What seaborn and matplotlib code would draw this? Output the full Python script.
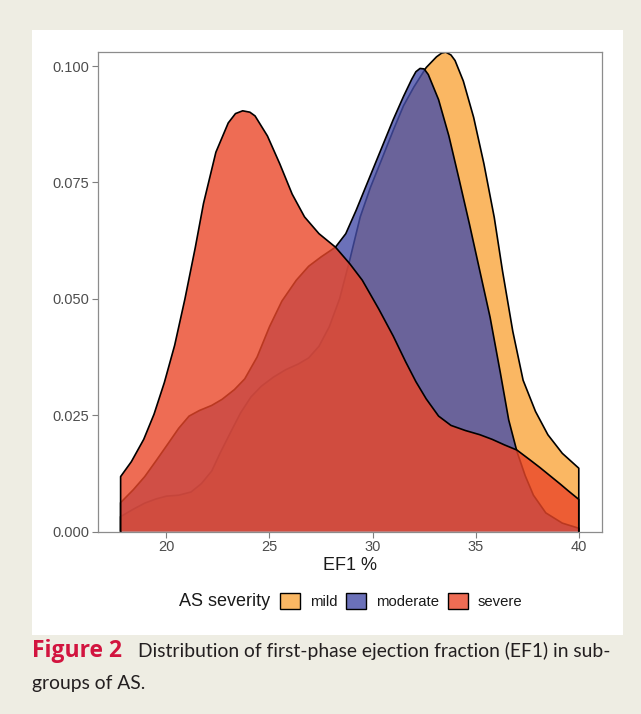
import matplotlib
matplotlib.use("Agg")
import matplotlib.pyplot as plt
import seaborn as sns
from matplotlib.patches import Patch, Rectangle
from matplotlib.colors import to_rgba

# Data (density estimates per AS severity group)
categories = ["mild", "moderate", "severe"]

mild_x = [17.78, 18.4, 18.95, 19.5, 20.0, 20.6, 21.2, 21.7, 22.2, 22.6, 23.1, 23.6,
          24.1, 24.6, 25.2, 25.8, 26.4, 26.9, 27.4, 27.9, 28.4, 28.9, 29.4, 29.9,
          30.4, 31.0, 31.5, 32.0, 32.6, 33.1, 33.35, 33.55, 33.8, 34.0, 34.4, 34.9,
          35.4, 35.9, 36.3, 36.8, 37.3, 37.9, 38.5, 39.2, 40.0]
mild_y = [0.0032, 0.0048, 0.0061, 0.0070, 0.0076, 0.0078, 0.0085, 0.0103, 0.0130,
          0.0168, 0.0212, 0.0255, 0.0289, 0.0312, 0.0332, 0.0348, 0.0360, 0.0373,
          0.0398, 0.0440, 0.0500, 0.0585, 0.0676, 0.0740, 0.0795, 0.0862, 0.0915,
          0.0955, 0.0997, 0.1020, 0.1028, 0.1030, 0.1024, 0.1012, 0.0968, 0.0890,
          0.0790, 0.0675, 0.0560, 0.0430, 0.0325, 0.0258, 0.0208, 0.0168, 0.0136]

moderate_x = [17.78, 18.4, 18.95, 19.5, 20.1, 20.6, 21.1, 21.6, 22.2, 22.7, 23.3, 23.8,
              24.4, 25.0, 25.6, 26.3, 26.9, 27.5, 28.2, 28.7, 29.2, 29.8, 30.4, 31.0,
              31.5, 31.9, 32.1, 32.3, 32.5, 32.7, 33.2, 33.7, 34.2, 34.7, 35.2, 35.7,
              36.2, 36.6, 37.0, 37.4, 37.8, 38.4, 39.2, 40.0]
moderate_y = [0.0062, 0.0090, 0.0118, 0.0152, 0.0190, 0.0222, 0.0248, 0.0260, 0.0271,
              0.0284, 0.0305, 0.0328, 0.0375, 0.0440, 0.0495, 0.0540, 0.0570, 0.0590,
              0.0611, 0.0640, 0.0690, 0.0755, 0.0820, 0.0885, 0.0935, 0.0972, 0.0988,
              0.0995, 0.0994, 0.0982, 0.0928, 0.0850, 0.0756, 0.0660, 0.0560, 0.0460,
              0.0340, 0.0240, 0.0172, 0.0120, 0.0078, 0.0040, 0.0018, 0.0007]

severe_x = [17.78, 18.3, 18.9, 19.4, 19.9, 20.4, 20.9, 21.4, 21.8, 22.4, 23.0, 23.35,
            23.7, 24.05, 24.3, 24.9, 25.5, 26.1, 26.7, 27.4, 28.2, 28.9, 29.5, 30.3,
            31.0, 31.6, 32.1, 32.6, 33.2, 33.8, 34.5, 35.2, 35.8, 36.4, 37.0, 37.6,
            38.1, 38.6, 39.1, 39.5, 40.0]
severe_y = [0.0118, 0.0150, 0.0198, 0.0252, 0.0320, 0.0400, 0.0500, 0.0610, 0.0705,
            0.0815, 0.0878, 0.0898, 0.0904, 0.0901, 0.0893, 0.0850, 0.0790, 0.0725,
            0.0676, 0.0640, 0.0611, 0.0575, 0.0540, 0.0478, 0.0420, 0.0365, 0.0322,
            0.0285, 0.0248, 0.0228, 0.0217, 0.0208, 0.0198, 0.0186, 0.0175, 0.0155,
            0.0138, 0.0120, 0.0102, 0.0087, 0.0069]

x_ticks = [20, 25, 30, 35, 40]
y_ticks = [0.000, 0.025, 0.050, 0.075, 0.100]

colors = {"mild": "#F9A53C", "moderate": "#464EA8", "severe": "#EA4729"}
ALPHA = 0.8

W, H = 641, 714


def main():
    sns.set_theme(style="white")
    plt.rcParams["font.family"] = ["Liberation Sans", "DejaVu Sans"]

    fig = plt.figure(figsize=(W / 100, H / 100), dpi=100)
    fig.patch.set_facecolor("#EEEDE3")

    # white panel behind the chart
    panel = Rectangle((32 / W, 1 - 635 / H), (623 - 32) / W, (635 - 30) / H,
                      transform=fig.transFigure, facecolor="white",
                      edgecolor="none", zorder=-10)
    fig.patches.append(panel)

    ax = fig.add_axes([97.7 / W, 1 - 531.5 / H, (601.7 - 97.7) / W, (531.5 - 51.7) / H])
    ax.set_facecolor("white")
    ax.set_zorder(1)

    series = {
        "mild": (mild_x, mild_y),
        "moderate": (moderate_x, moderate_y),
        "severe": (severe_x, severe_y),
    }
    # each group: fill then its outline, so later fills dim earlier outlines
    for i, name in enumerate(categories):
        xs, ys = series[name]
        ax.fill_between(xs, ys, 0, facecolor=to_rgba(colors[name], ALPHA),
                        edgecolor="none", zorder=1 + 2 * i)
        ax.plot([xs[0]] + list(xs) + [xs[-1]], [0.0] + list(ys) + [0.0],
                color="black", lw=1.2, solid_joinstyle="round", zorder=2 + 2 * i)

    span = 40.0 - 17.78
    ax.set_xlim(17.78 - 0.05 * span, 40.0 + 0.05 * span)
    ax.set_ylim(0, 0.1031)
    ax.set_xticks(x_ticks)
    ax.set_yticks(y_ticks)
    ax.set_yticklabels([f"{v:.3f}" for v in y_ticks])
    ax.tick_params(axis="both", direction="out", length=4, width=0.8, color="#7F7F7F",
                   labelsize=10.5, labelcolor="#4D4D4D", pad=2, bottom=True, left=True)
    for s in ax.spines.values():
        s.set_color("#8C8C8C")
        s.set_linewidth(0.9)
        s.set_zorder(10)
    ax.set_xlabel("EF1 %", fontsize=13, color="#1A1A1A", labelpad=2)
    ax.set_ylabel("")

    # legend
    fig.text(179 / W, 1 - 601 / H, "AS severity", fontsize=13, color="#1A1A1A",
             ha="left", va="center")
    handles = [Patch(facecolor=to_rgba(colors[c], ALPHA), edgecolor="black",
                     linewidth=1.0, label=c) for c in categories]
    leg = fig.legend(handles=handles, ncol=3, loc="center left",
                     bbox_to_anchor=(280 / W, 1 - 601 / H), frameon=False,
                     fontsize=10.7, handlelength=1.35, handleheight=1.35,
                     handletextpad=0.65, columnspacing=0.6, borderpad=0,
                     borderaxespad=0)
    for t in leg.get_texts():
        t.set_color("#1A1A1A")

    # caption
    cap_font = ["Lato", "DejaVu Sans"]
    fig.text(32 / W, 1 - 651 / H, "Figure 2", fontsize=16.5, fontweight="bold",
             color="#D2143F", family=["Open Sans", "DejaVu Sans"], ha="left", va="center")
    fig.text(138 / W, 1 - 651 / H,
             "Distribution of first-phase ejection fraction (EF1) in sub-",
             fontsize=13.9, color="#231F20", family=cap_font, ha="left", va="center")
    fig.text(32 / W, 1 - 683 / H, "groups of AS.", fontsize=13.9, color="#231F20",
             family=cap_font, ha="left", va="center")

    fig.savefig("out.png", dpi=100, facecolor=fig.get_facecolor())
    plt.close(fig)


if __name__ == "__main__":
    main()
